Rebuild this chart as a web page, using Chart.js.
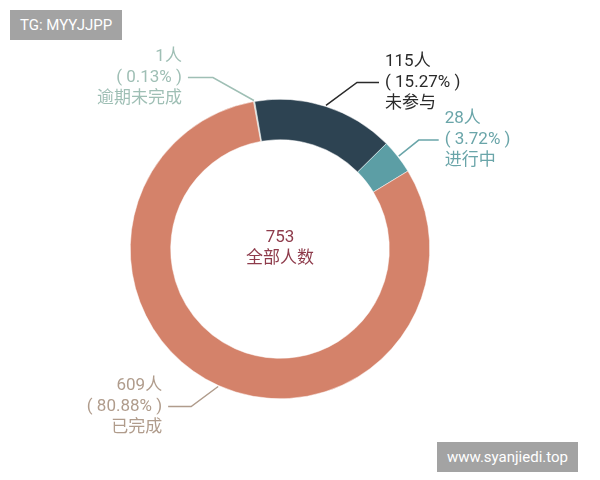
<!DOCTYPE html>
<html>
<head>
<meta charset="utf-8">
<script src="https://cdn.jsdelivr.net/npm/chart.js@4"></script>
<style>
  body { margin: 0; background: #fff; }
  #wrap { position: relative; width: 600px; height: 480px; }
  .tag { position: absolute; background: #a3a3a3; color: #fff; font: 15px Roboto, sans-serif; padding: 0 10px; line-height: 30px; }
</style>
</head>
<body>
<div id="wrap">
  <canvas id="ring" width="600" height="480"></canvas>
  <div class="tag" style="left:10px;top:10px;">TG: MYYJJPP</div>
  <div class="tag" style="left:437px;top:442px;">www.syanjiedi.top</div>
</div>
<script>
'use strict';

const labels = ['逾期未完成', '未参与', '进行中', '已完成'];
const counts = [1, 115, 28, 609];
const percents = ['0.13%', '15.27%', '3.72%', '80.88%'];
const total = 753;

const sliceColors = ['#a9c6bd', '#2d4352', '#5c9ea5', '#d4826a'];
const textColors = ['#9fbfb5', '#2a2a2a', '#6aa5a9', '#b09c8c'];
// leader line elbow offset from slice edge and which side the text sits on
const leaders = [
    { dx: -41, dy: -23, len: 25, side: 'left' },
    { dx: 31, dy: -23, len: 22, side: 'right' },
    { dx: 20, dy: -16, len: 20, side: 'right' },
    { dx: -27, dy: 20, len: 23, side: 'left' }
];

const labelPlugin = {
    id: 'labelPlugin',
    afterDraw(chart) {
        const ctx = chart.ctx;
        const arcs = chart.getDatasetMeta(0).data;
        ctx.save();
        arcs.forEach(function (arc, i) {
            const mid = (arc.startAngle + arc.endAngle) / 2;
            const x0 = arc.x + Math.cos(mid) * (arc.outerRadius + 1);
            const y0 = arc.y + Math.sin(mid) * (arc.outerRadius + 1);
            const l = leaders[i];
            const x1 = x0 + l.dx, y1 = y0 + l.dy;
            const x2 = l.side === 'left' ? x1 - l.len : x1 + l.len;
            ctx.strokeStyle = i === 1 ? '#2a2a2a' : textColors[i];
            ctx.lineWidth = 1.5;
            ctx.beginPath();
            ctx.moveTo(x0, y0);
            ctx.lineTo(x1, y1);
            ctx.lineTo(x2, y1);
            ctx.stroke();
            ctx.fillStyle = textColors[i];
            ctx.font = '17px Roboto, "Noto Sans CJK SC"';
            ctx.textBaseline = 'middle';
            ctx.textAlign = l.side === 'left' ? 'right' : 'left';
            const tx = l.side === 'left' ? x2 - 6 : x2 + 6;
            ctx.fillText(counts[i] + '人', tx, y1 - 21);
            ctx.fillText('( ' + percents[i] + ' )', tx, y1);
            ctx.fillText(labels[i], tx, y1 + 21);
        });
        const c = arcs[0];
        ctx.fillStyle = '#8e3b4b';
        ctx.textAlign = 'center';
        ctx.font = '17px Roboto, "Noto Sans CJK SC"';
        ctx.fillText(String(total), c.x, c.y - 11);
        ctx.fillText('全部人数', c.x, c.y + 10);
        ctx.restore();
    }
};

new Chart(document.getElementById('ring').getContext('2d'), {
    type: 'doughnut',
    data: {
        labels: labels,
        datasets: [{
            data: counts,
            backgroundColor: sliceColors,
            borderColor: '#ffffff',
            borderWidth: 0.5
        }]
    },
    options: {
        responsive: false,
        animation: false,
        cutout: '73%',
        rotation: -10.2,
        layout: { padding: { left: 130, right: 170, top: 99, bottom: 81 } },
        plugins: { legend: { display: false }, tooltip: { enabled: false } }
    },
    plugins: [labelPlugin]
});
</script>
</body>
</html>
